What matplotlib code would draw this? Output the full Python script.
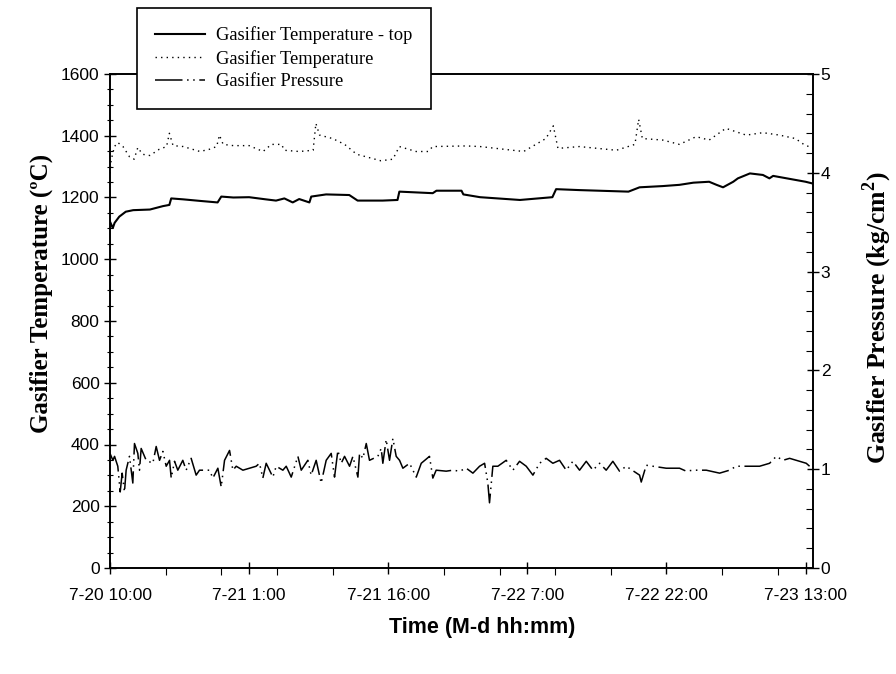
import numpy as np
import matplotlib
matplotlib.use("Agg")
import matplotlib.pyplot as plt
from matplotlib.ticker import MultipleLocator, FixedLocator

plt.rcParams['font.family'] = ['Liberation Sans', 'DejaVu Sans']
plt.rcParams['mathtext.fontset'] = 'custom'
plt.rcParams['mathtext.rm'] = 'Liberation Serif:bold'
plt.rcParams['mathtext.bf'] = 'Liberation Serif:bold'

# hours since 7-20 10:00
t_top = [0, 0.3, 0.5, 1.0, 1.7, 2.5, 4.3, 5.7, 6.4, 6.6, 7.9, 9.7, 11.6, 12.0,
         13.3, 15.0, 16.8, 17.9, 18.8, 19.7, 20.4, 21.5, 21.7, 23.3, 25.8, 26.7,
         29.4, 31.0, 31.2, 34.8, 35.2, 37.9, 38.1, 39.9, 44.2, 47.7, 48.1, 50.6,
         55.9, 57.1, 59.6, 61.4, 62.9, 64.6, 65.4, 66.1, 67.2, 67.7, 69.0, 70.4,
         71.1, 71.5, 75.0, 75.8]
temp_top = [1122, 1101, 1118, 1138, 1154, 1159, 1161, 1172, 1176, 1197, 1194, 1189,
            1184, 1203, 1200, 1201, 1194, 1190, 1197, 1184, 1195, 1184, 1203, 1210,
            1208, 1190, 1190, 1192, 1219, 1214, 1222, 1222, 1210, 1201, 1192, 1201,
            1227, 1224, 1219, 1233, 1237, 1241, 1248, 1251, 1241, 1233, 1251, 1262,
            1278, 1273, 1262, 1270, 1251, 1245]

t_gas = [0, 0.12, 0.48, 0.84, 1.4, 2.1, 2.6, 3.0, 3.5, 4.3, 5.3, 6.1, 6.4, 6.8,
         7.9, 9.7, 10.7, 11.5, 11.8, 12.2, 13.3, 15.0, 16.5, 17.4, 18.5, 18.8,
         20.4, 21.9, 22.2, 22.6, 24.0, 25.3, 26.6, 27.6, 29.2, 30.5, 31.2, 33.0,
         34.3, 34.8, 38.4, 39.9, 44.6, 47.0, 47.8, 48.3, 50.6, 54.6, 56.6, 57.0,
         57.4, 59.6, 61.4, 63.2, 64.6, 66.4, 68.6, 70.4, 72.2, 73.9, 74.9, 75.8]
temp_gas = [1278, 1321, 1365, 1378, 1365, 1332, 1324, 1362, 1340, 1336, 1356, 1365,
            1408, 1368, 1365, 1349, 1356, 1365, 1402, 1372, 1368, 1368, 1349, 1372,
            1372, 1353, 1349, 1353, 1440, 1402, 1391, 1372, 1340, 1332, 1319, 1324,
            1365, 1349, 1349, 1365, 1367, 1365, 1349, 1391, 1432, 1359, 1365, 1353,
            1372, 1453, 1391, 1386, 1372, 1397, 1386, 1424, 1402, 1410, 1402, 1391,
            1370, 1360]

t_pres = [0, 0.31, 0.49, 0.84, 1.10, 1.31, 1.56, 1.74, 2.10, 2.46, 2.64, 3.00, 3.18,
          3.36, 3.90, 4.62, 4.98, 5.34, 5.70, 6.06, 6.42, 6.60, 6.96, 7.31, 7.85,
          8.21, 8.75, 9.29, 9.65, 10.73, 11.09, 11.63, 11.99, 12.35, 12.89, 13.25,
          13.61, 14.33, 15.76, 16.12, 16.48, 16.84, 17.56, 17.92, 18.64, 19.00,
          19.54, 20.26, 20.62, 21.33, 21.69, 22.23, 22.77, 23.31, 23.85, 24.21,
          24.57, 24.93, 25.29, 25.83, 26.19, 26.73, 26.91, 27.27, 27.63, 27.98,
          28.88, 29.24, 29.42, 29.78, 30.14, 30.50, 30.86, 31.22, 31.58, 32.30,
          33.02, 33.56, 34.45, 34.81, 35.17, 36.25, 36.97, 37.69, 38.41, 39.13,
          39.85, 40.39, 40.74, 40.92, 41.28, 41.82, 42.72, 43.44, 44.16, 44.88,
          45.60, 46.32, 47.03, 47.75, 48.47, 49.19, 49.91, 50.63, 51.35, 52.07,
          52.79, 53.50, 54.22, 54.94, 55.66, 57.10, 57.28, 57.82, 58.54, 59.97,
          61.41, 62.13, 62.85, 64.29, 65.73, 66.80, 67.52, 68.60, 70.04, 71.12,
          71.84, 72.56, 73.28, 73.99, 75.07, 75.43]
pressure = [1.16, 1.09, 1.13, 1.03, 0.77, 0.96, 0.77, 0.99, 1.13, 0.86, 1.26, 1.16,
            0.99, 1.21, 1.09, 1.06, 1.23, 1.09, 1.18, 1.03, 1.09, 0.91, 1.08, 0.99,
            1.09, 0.99, 1.11, 0.94, 0.99, 0.99, 0.91, 1.01, 0.82, 1.09, 1.19, 0.99,
            1.03, 0.99, 1.03, 1.06, 0.91, 1.06, 0.92, 1.03, 0.99, 1.03, 0.92, 1.13,
            0.99, 1.09, 0.94, 1.09, 0.86, 1.09, 1.16, 0.92, 1.19, 1.06, 1.13, 1.03,
            1.13, 0.92, 1.16, 1.11, 1.26, 1.09, 1.13, 1.21, 1.06, 1.30, 1.09, 1.31,
            1.13, 1.09, 1.01, 1.06, 0.92, 1.06, 1.13, 0.91, 0.99, 0.98, 0.99, 0.98,
            1.01, 0.96, 1.03, 1.06, 0.86, 0.66, 1.03, 1.03, 1.09, 0.99, 1.08, 1.03,
            0.94, 1.06, 1.11, 1.06, 1.09, 0.99, 1.08, 0.99, 1.08, 0.99, 1.06, 0.99,
            1.08, 0.98, 1.03, 0.94, 0.87, 1.04, 1.03, 1.01, 1.01, 0.98, 0.99, 0.99,
            0.96, 0.99, 1.03, 1.03, 1.03, 1.06, 1.13, 1.09, 1.11, 1.09, 1.06, 1.03]

major_hours = [0, 15, 30, 45, 60, 75]
major_labels = ['7-20 10:00', '7-21 1:00', '7-21 16:00', '7-22 7:00',
                '7-22 22:00', '7-23 13:00']

fig = plt.figure(figsize=(8.96, 6.74), dpi=100)
ax = fig.add_axes([110/896, 1-568/674, 703/896, 494/674])
ax2 = ax.twinx()

l1, = ax.plot(t_top, temp_top, color='black', lw=1.5, ls='-')
l2, = ax.plot(t_gas, temp_gas, color='black', lw=1.0, ls=(0, (1, 3)))
l3, = ax2.plot(t_pres, pressure, color='black', lw=1.1, ls=(0, (18, 3, 1, 3, 1, 3)))

ax.set_xlim(0, 75.8)
ax.set_ylim(0, 1600)
ax2.set_ylim(0, 5)

ax.xaxis.set_major_locator(FixedLocator(major_hours))
ax.set_xticklabels(major_labels)
ax.xaxis.set_minor_locator(MultipleLocator(6))
ax.yaxis.set_major_locator(MultipleLocator(200))
ax.yaxis.set_minor_locator(MultipleLocator(50))
ax2.yaxis.set_major_locator(MultipleLocator(1))
ax2.yaxis.set_minor_locator(MultipleLocator(0.2))

ax.tick_params(axis='y', which='major', direction='inout', length=9, width=1, labelsize=12.5, pad=3)
ax.tick_params(axis='y', which='minor', direction='inout', length=5, width=0.8)
ax.tick_params(axis='x', which='major', direction='inout', length=9, width=1, labelsize=12.5, pad=10)
ax.tick_params(axis='x', which='minor', direction='out', length=5, width=0.8)
ax2.tick_params(axis='y', which='major', direction='inout', length=9, width=1, labelsize=12.5, pad=1)
ax2.tick_params(axis='y', which='minor', direction='in', length=5, width=0.8)

for a in (ax, ax2):
    for s in a.spines.values():
        s.set_linewidth(1.2)

fig.text(41/896, 1-293/674, 'Gasifier Temperature (ºC)', rotation=90, ha='center', va='center',
         fontsize=18, fontweight='bold', family='Liberation Serif')
fig.text(877/896, 1-318/674, r'Gasifier Pressure (kg/cm$^{2}$)', rotation=90, ha='center', va='center',
         fontsize=18.5, fontweight='bold', family='Liberation Serif')
fig.text(482/896, 1-628/674, 'Time (M-d hh:mm)', ha='center', va='center',
         fontsize=15.5, fontweight='bold')

leg = ax2.legend([l1, l2, l3],
                 ['Gasifier Temperature - top', 'Gasifier Temperature', 'Gasifier Pressure'],
                 loc='upper left', bbox_to_anchor=(137/896, 1-8/674), bbox_transform=fig.transFigure,
                 borderaxespad=0, fancybox=False, framealpha=1, edgecolor='black',
                 prop={'family': 'Liberation Serif', 'size': 13.3}, handlelength=2.7,
                 handletextpad=0.6, labelspacing=0.3, borderpad=1.0)
leg.get_frame().set_linewidth(1.2)

fig.savefig('out.png', dpi=100)
